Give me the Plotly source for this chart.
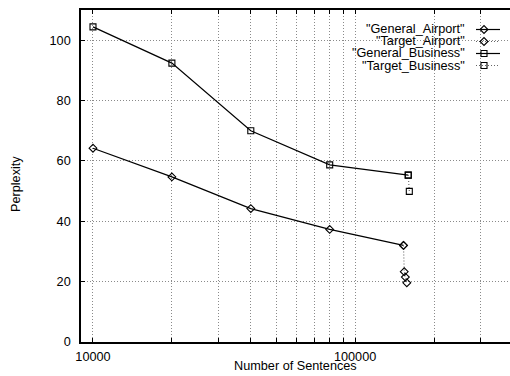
import math
import plotly.graph_objects as go

# ---- data ----
ga_x = [10000, 20000, 40000, 80000, 153000]
ga_y = [64.2, 54.7, 44.2, 37.3, 32.0]
ta_x = [153000, 154000, 155500, 157500]
ta_y = [32.0, 23.3, 21.5, 19.6]
gb_x = [10000, 20000, 40000, 80000, 159500]
gb_y = [104.4, 92.4, 70.0, 58.7, 55.3]
tb_x = [159500, 161000]
tb_y = [55.3, 49.9]

series_names = ['"General_Airport"', '"Target_Airport"', '"General_Business"', '"Target_Business"']

x_tickvals = [10000, 20000, 30000, 40000, 50000, 60000, 70000, 80000, 90000,
              100000, 200000, 300000]
x_ticktext = ["10000", "", "", "", "", "", "", "", "", "100000", "", ""]
y_tickvals = [0, 20, 40, 60, 80, 100]
y_ticktext = ["0", "20", "40", "60", "80", "100"]

x_title = "Number of Sentences"
y_title = "Perplexity"

# ---- layout geometry ----
W, H = 510, 376
L, R, T, B = 81, 0, 10, 34
PW, PH = W - L - R, H - T - B
FONT = "Liberation Sans, Arial, Helvetica, sans-serif"
FS = 12.7


def px(xp):
    return (xp - L) / PW


def py(yp):
    return (H - B - yp) / PH


solid = dict(color="black", width=1.2)
dotted = dict(color="#666666", width=1.1, dash="1px,2px")
dia = dict(symbol="diamond-open", size=6, color="black", line=dict(color="black", width=1.1))
sq = dict(symbol="square-open", size=6, color="black", line=dict(color="black", width=1.1))

fig = go.Figure()
fig.add_trace(go.Scatter(x=ga_x, y=ga_y, mode="lines+markers", line=solid, marker=dia,
                         name=series_names[0], showlegend=False, cliponaxis=False))
fig.add_trace(go.Scatter(x=ta_x, y=ta_y, mode="lines+markers", line=dotted, marker=dia,
                         name=series_names[1], showlegend=False, cliponaxis=False))
fig.add_trace(go.Scatter(x=gb_x, y=gb_y, mode="lines+markers", line=solid, marker=sq,
                         name=series_names[2], showlegend=False, cliponaxis=False))
fig.add_trace(go.Scatter(x=tb_x, y=tb_y, mode="lines+markers", line=dotted, marker=sq,
                         name=series_names[3], showlegend=False, cliponaxis=False))

# ---- gnuplot-style key (text right-aligned, sample on the right) ----
key_rows = [29.5, 41.5, 53.5, 65.5]
key_styles = [(solid, dia), (dotted, dia), (solid, sq), (dotted, sq)]
annotations = []
for name, yrow, (ln, mk) in zip(series_names, key_rows, key_styles):
    annotations.append(dict(text=name, x=px(467), y=py(yrow), xref="paper", yref="paper",
                            xanchor="right", yanchor="middle", showarrow=False,
                            font=dict(family=FONT, size=FS, color="black")))
    fig.add_trace(go.Scatter(x=[476, 500], y=[yrow, yrow], mode="lines", line=ln,
                             xaxis="x2", yaxis="y2", showlegend=False, hoverinfo="skip"))
    fig.add_trace(go.Scatter(x=[484], y=[yrow], mode="markers", marker=mk,
                             xaxis="x2", yaxis="y2", showlegend=False, hoverinfo="skip"))

annotations.append(dict(text=y_title, x=px(16), y=py(184), xref="paper", yref="paper",
                        xanchor="center", yanchor="middle", textangle=-90, showarrow=False,
                        font=dict(family=FONT, size=FS, color="black")))
annotations.append(dict(text=x_title, x=px(295), y=py(366), xref="paper", yref="paper",
                        xanchor="center", yanchor="middle", showarrow=False,
                        font=dict(family=FONT, size=FS, color="black")))

GRID = dict(showgrid=True, gridcolor="#8a8a8a", griddash="1px,2px", gridwidth=1)

fig.update_layout(
    width=W, height=H,
    margin=dict(l=L, r=R, t=T, b=B, pad=0),
    paper_bgcolor="white", plot_bgcolor="white",
    font=dict(family=FONT, size=FS, color="black"),
    showlegend=False,
    annotations=annotations,
    xaxis=dict(type="log", range=[math.log10(9000), 5.591],
               tickmode="array", tickvals=x_tickvals, ticktext=x_ticktext,
               ticks="inside", ticklen=4, tickwidth=1, tickcolor="black",
               showline=True, linecolor="black", linewidth=1.5, mirror="ticks",
               zeroline=False, ticklabelstandoff=2, **GRID),
    yaxis=dict(range=[0, 110], tickmode="array", tickvals=y_tickvals, ticktext=y_ticktext,
               ticks="inside", ticklen=4, tickwidth=1, tickcolor="black",
               showline=True, linecolor="black", linewidth=1.5, mirror=False,
               zeroline=False, ticklabelstandoff=6, **GRID),
    xaxis2=dict(domain=[0, 1], range=[L, W - R], overlaying="x", anchor="y2", visible=False),
    yaxis2=dict(domain=[0, 1], range=[H - B, T], overlaying="y", anchor="x2", visible=False),
)

fig.write_html(
    "out.html",
    config={"displayModeBar": False},
    post_script="document.body.style.margin='0';document.body.style.overflow='hidden';",
)
